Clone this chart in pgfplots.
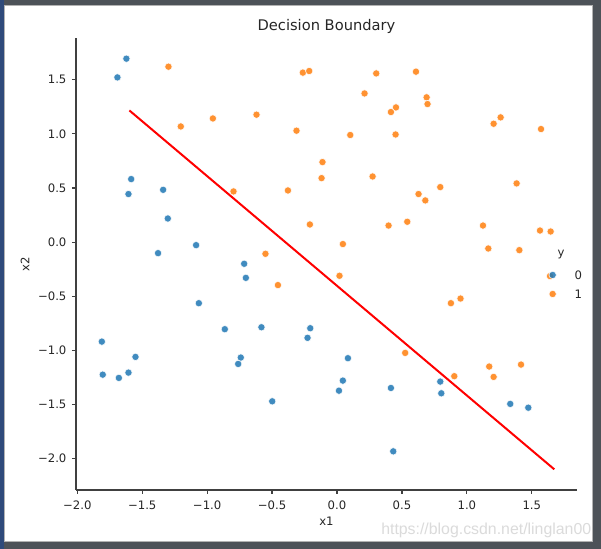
\documentclass[border=0pt]{standalone}
\usepackage{pgfplots}
\pgfplotsset{compat=1.18}
\usepackage{fontspec}
\setmainfont{DejaVu Sans}
\newfontfamily\wmfont{Liberation Sans}

\definecolor{tabblue}{HTML}{1F77B4}
\definecolor{taborange}{HTML}{FF7F0E}
\definecolor{spine}{HTML}{404040}
\definecolor{frame}{HTML}{4D5258}
\definecolor{desk}{HTML}{2F4A7A}

\begin{document}
\begin{tikzpicture}
% screenshot frame (1px = 0.75pt, axis lower left at origin)
\fill[frame] (-57pt,-44.25pt) rectangle (393.75pt,367.5pt);
\fill[desk] (-57pt,-44.25pt) rectangle (-54pt,367.5pt);
\filldraw[fill=white, draw=black!30, line width=0.75pt] (-53.25pt,-39pt) rectangle (387pt,363pt);

\begin{axis}[
    scale only axis,
    width=375.75pt, height=339pt,
    xmin=-2.01, xmax=1.848,
    ymin=-2.289, ymax=1.885,
    axis x line*=bottom, axis y line*=left,
    axis line style={spine, line width=0.9pt},
    every tick/.style={spine, line width=0.9pt},
    tick align=outside,
    major tick length=3pt,
    xtick={-2,-1.5,-1,-0.5,0,0.5,1,1.5},
    xticklabels={−2.0,−1.5,−1.0,−0.5,0.0,0.5,1.0,1.5},
    ytick={-2,-1.5,-1,-0.5,0,0.5,1,1.5},
    yticklabels={−2.0,−1.5,−1.0,−0.5,0.0,0.5,1.0,1.5},
    tick label style={font=\fontsize{8.75}{10.5}\selectfont, text=black!85},
    xticklabel style={anchor=base, yshift=-11.8pt},
    yticklabel style={anchor=east, inner xsep=0pt, xshift=-4pt},
    every axis title shift=0pt,
    title={Decision Boundary},
    title style={font=\fontsize{11}{13}\selectfont, text=black!85,
                 at={(axis description cs:0.5,1.0155)}, anchor=base},
    xlabel={x1}, ylabel={x2},
    label style={font=\fontsize{8.75}{10.5}\selectfont, text=black!85},
    xlabel style={at={(axis description cs:0.5,-0.0796)}, anchor=base},
    ylabel style={at={(axis description cs:-0.1018,0.5)}, anchor=center},
    legend style={draw=none, fill=none, inner sep=0pt, outer sep=0pt,
                  at={(axis description cs:0.9421,0.486)}, anchor=north west,
                  font=\fontsize{8.75}{10.5}\selectfont, text=black!85,
                  row sep=7.25pt, column sep=13pt,
                  nodes={inner sep=0pt, text height=6.4pt, text depth=0pt},
                  cells={anchor=center}},
    legend image code/.code={%
        \path[draw=none, fill=none] (-3.5pt,-3.5pt) rectangle (3.5pt,3.5pt);
        \draw[#1] plot coordinates {(0pt,0pt)};},
    clip=false,
]
\addplot[only marks, mark=*, mark size=2.75pt,
    mark options={fill=tabblue, draw=white, line width=0.5pt, opacity=0.85}]
    coordinates {
    (-1.622,1.694) (-1.691,1.521) (-1.585,0.582) (-1.606,0.444)
    (-1.339,0.483) (-1.303,0.218) (-1.085,-0.028) (-1.378,-0.102)
    (-0.715,-0.200) (-0.702,-0.330) (-1.811,-0.919) (-1.804,-1.224)
    (-1.680,-1.254) (-1.606,-1.205) (-1.552,-1.060) (-1.064,-0.564)
    (-0.864,-0.804) (-0.582,-0.786) (-0.741,-1.066) (-0.761,-1.125)
    (-0.499,-1.470) (-0.206,-0.795) (-0.227,-0.884) (0.084,-1.072)
    (0.045,-1.279) (0.015,-1.372) (0.415,-1.347) (0.433,-1.932)
    (0.795,-1.288) (0.803,-1.396) (1.334,-1.494) (1.473,-1.529)
    };
\addlegendentry{0}
\addplot[only marks, mark=*, mark size=2.75pt,
    mark options={fill=taborange, draw=white, line width=0.5pt, opacity=0.85}]
    coordinates {
    (-1.298,1.620) (-0.263,1.565) (-0.214,1.580) (-1.203,1.068)
    (-0.956,1.142) (-0.620,1.177) (-0.312,1.029) (-0.112,0.739)
    (-0.119,0.591) (-0.797,0.468) (-0.378,0.477) (-0.209,0.163)
    (-0.551,-0.108) (0.302,1.558) (0.608,1.574) (0.212,1.373)
    (0.690,1.337) (0.697,1.275) (0.454,1.244) (0.415,1.201)
    (1.260,1.152) (1.206,1.093) (1.571,1.044) (0.102,0.989)
    (0.451,0.994) (0.274,0.606) (1.383,0.542) (0.795,0.508)
    (0.628,0.444) (0.680,0.385) (0.397,0.153) (0.541,0.188)
    (1.124,0.153) (1.563,0.107) (1.645,0.098) (0.045,-0.018)
    (1.165,-0.059) (1.404,-0.074) (0.019,-0.311) (1.640,-0.314)
    (-0.455,-0.397) (0.877,-0.564) (0.951,-0.521) (0.525,-1.023)
    (1.172,-1.149) (1.206,-1.245) (1.417,-1.131) (0.903,-1.238)
    };
\addlegendentry{1}
% decision boundary
\addplot[red, line width=1.5pt, forget plot] coordinates {(-1.599,1.216) (1.673,-2.098)};
\node[font=\fontsize{8.75}{10.5}\selectfont, text=black!85] at (axis description cs:0.968,0.520) {y};
\end{axis}

\node[anchor=west, inner sep=0pt, font=\wmfont\fontsize{11.9}{14}\selectfont, text=black!14]
    at (228.75pt,-30pt) {https://blog.csdn.net/linglan00};
\end{tikzpicture}
\end{document}
